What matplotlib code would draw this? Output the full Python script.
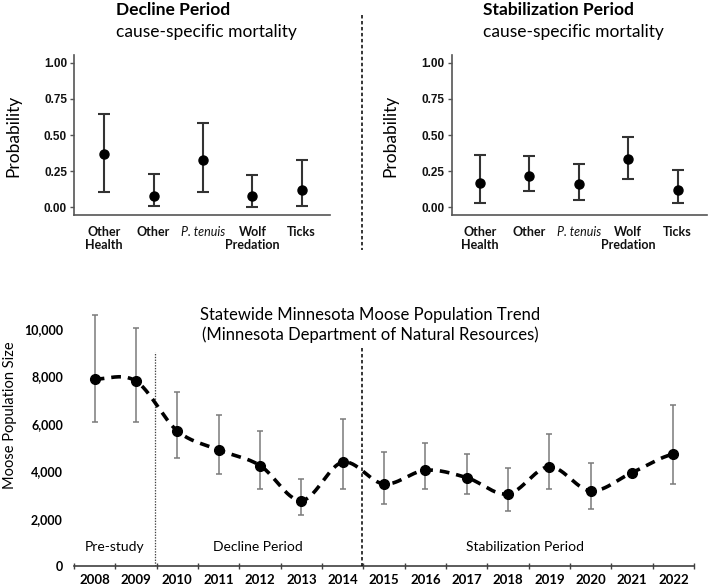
import numpy as np
import matplotlib
matplotlib.use("Agg")
import matplotlib.pyplot as plt
from matplotlib.lines import Line2D

plt.rcParams['lines.scale_dashes'] = False

# ---------------- data ----------------
causes = ["Other\nHealth", "Other", "P. tenuis", "Wolf\nPredation", "Ticks"]

decline_est = [0.366, 0.081, 0.325, 0.076, 0.120]
decline_lo = [0.104, 0.007, 0.106, 0.002, 0.007]
decline_hi = [0.643, 0.228, 0.581, 0.226, 0.327]

stab_est = [0.171, 0.220, 0.160, 0.336, 0.120]
stab_lo = [0.030, 0.111, 0.049, 0.197, 0.028]
stab_hi = [0.361, 0.352, 0.301, 0.484, 0.259]

years = [2008, 2009, 2010, 2011, 2012, 2013, 2014, 2015,
         2016, 2017, 2018, 2019, 2020, 2021, 2022]
moose_est = [7890, 7800, 5700, 4900, 4240, 2760, 4380, 3460,
             4040, 3730, 3040, 4190, 3170, 3940, 4720]
moose_lo = [6070, 6070, 4550, 3890, 3250, 2170, 3240, 2620,
            3240, 3030, 2340, 3270, 2420, np.nan, 3460]
moose_hi = [10600, 10040, 7360, 6380, 5700, 3660, 6220, 4790,
            5180, 4730, 4150, 5580, 4340, np.nan, 6790]

W, H = 709, 588
fig = plt.figure(figsize=(W / 100, H / 100), dpi=100)


def fx(x):
    return x / W


def fy(y):
    return 1 - y / H


def ax_rect(x0, y0, x1, y1):
    return [fx(x0), fy(y1), (x1 - x0) / W, (y1 - y0) / H]


FONT = "Lato"
SPINE = "#555555"


def top_panel(rect, est, lo, hi, xlim, ylab_x):
    ax = fig.add_axes(rect)
    x = np.arange(len(causes))
    est = np.array(est)
    lo = np.array(lo)
    hi = np.array(hi)
    ax.errorbar(x, est, yerr=[est - lo, hi - est], fmt='o', color='black',
                ecolor='#333333', elinewidth=1.5, capsize=4, capthick=1.5,
                markersize=6.5)
    ax.set_xlim(*xlim)
    ax.set_ylim(-0.053, 1.053)
    ax.set_yticks([0, 0.25, 0.5, 0.75, 1.0])
    ax.set_yticklabels(["0.00", "0.25", "0.50", "0.75", "1.00"],
                       fontfamily="Liberation Sans", fontweight="bold",
                       fontsize=8.5, color="#111111")
    ax.set_xticks(x)
    ax.set_xticklabels(causes, fontfamily=FONT, fontweight="bold",
                       fontsize=9, color="#111111", linespacing=1.1)
    for lab in ax.get_xticklabels():
        if lab.get_text().startswith("P."):
            lab.set_fontstyle("italic")
            lab.set_fontweight("normal")
    ax.tick_params(axis='x', length=0, pad=8)
    ax.tick_params(axis='y', length=3, width=1, color=SPINE, pad=2)
    for s in ["top", "right"]:
        ax.spines[s].set_visible(False)
    for s in ["left", "bottom"]:
        ax.spines[s].set_color(SPINE)
        ax.spines[s].set_linewidth(1.2)
    fig.text(fx(ylab_x), fy(136), "Probability", rotation=90,
             ha="center", va="center", fontfamily=FONT, fontsize=12.5)
    return ax


top_panel(ax_rect(74, 55, 330, 215), decline_est, decline_lo, decline_hi,
          (-0.614, 4.573), 13)
top_panel(ax_rect(451.7, 55, 706.7, 215), stab_est, stab_lo, stab_hi,
          (-0.573, 4.587), 390)

fig.text(fx(116), fy(10), "Decline Period", ha="left", va="center",
         fontfamily=FONT, fontweight="bold", fontsize=12.5)
fig.text(fx(116), fy(32), "cause-specific mortality", ha="left", va="center",
         fontfamily=FONT, fontsize=12.5)
fig.text(fx(482.7), fy(10), "Stabilization Period", ha="left", va="center",
         fontfamily=FONT, fontweight="bold", fontsize=12.5)
fig.text(fx(482.7), fy(32), "cause-specific mortality", ha="left",
         va="center", fontfamily=FONT, fontsize=12.5)

# ---------------- bottom panel ----------------
ax = fig.add_axes(ax_rect(74, 300, 694, 566))
xi = np.arange(len(years))
est = np.array(moose_est, dtype=float)

# smooth (Catmull-Rom / Excel-style) curve through the estimates
P = np.concatenate([[est[0]], est, [est[-1]]])
Xp = np.concatenate([[xi[0]], xi, [xi[-1]]]).astype(float)
sx, sy = [], []
t = np.linspace(0, 1, 30)
for i in range(1, len(P) - 2):
    p0, p1, p2, p3 = P[i - 1], P[i], P[i + 1], P[i + 2]
    m1 = (p2 - p0) / 2
    m2 = (p3 - p1) / 2
    h00 = 2 * t**3 - 3 * t**2 + 1
    h10 = t**3 - 2 * t**2 + t
    h01 = -2 * t**3 + 3 * t**2
    h11 = t**3 - t**2
    sy.extend(h00 * p1 + h10 * m1 + h01 * p2 + h11 * m2)
    sx.extend(Xp[i] + t * (Xp[i + 1] - Xp[i]))
ax.plot(sx, sy, color='black', lw=2.6, dashes=(7, 5), solid_capstyle='butt',
        zorder=3)

lo = np.array(moose_lo, dtype=float)
hi = np.array(moose_hi, dtype=float)
ok = ~np.isnan(lo)
ax.errorbar(xi[ok], est[ok], yerr=[est[ok] - lo[ok], hi[ok] - est[ok]],
            fmt='none', ecolor='#7a7a7a', elinewidth=1.1, capsize=2.2,
            capthick=1.1, zorder=2)
ax.plot(xi, est, 'o', color='black', markersize=7, zorder=4)

ax.set_xlim(-0.5, len(years) - 0.5)
ax.set_ylim(0, 11224)
ax.set_yticks([0, 2000, 4000, 6000, 8000, 10000])
ax.set_yticklabels(["0", "2,000", "4,000", "6,000", "8,000", "10,000"],
                   fontfamily=FONT, fontweight="bold", fontsize=9)
ax.tick_params(axis='y', length=0, pad=8)
ax.set_xticks(xi)
ax.set_xticklabels([str(y) for y in years], fontfamily=FONT,
                   fontweight="bold", fontsize=9.5)
ax.set_xticks(np.arange(-0.5, len(years)), minor=True)
ax.tick_params(axis='x', which='major', length=0, pad=6)
ax.tick_params(axis='x', which='minor', length=5, width=1, color='#404040',
               direction='inout')
for s in ["top", "right", "left"]:
    ax.spines[s].set_visible(False)
ax.spines["bottom"].set_color('#404040')
ax.spines["bottom"].set_linewidth(1.2)

ax.plot([1.45, 1.45], [0, 9050], ls=(0, (1, 1)), color='#444444', lw=0.9,
        zorder=1)

fig.text(fx(370.5), fy(315), "Statewide Minnesota Moose Population Trend",
         ha="center", va="center", fontfamily=FONT, fontsize=12)
fig.text(fx(370.5), fy(335), "(Minnesota Department of Natural Resources)",
         ha="center", va="center", fontfamily=FONT, fontsize=12)
fig.text(fx(10), fy(415), "Moose Population Size", rotation=90, ha="center",
         va="center", fontfamily=FONT, fontsize=10.5)
for label, xc in [("Pre-study", 115), ("Decline Period", 257.7),
                  ("Stabilization Period", 525)]:
    fig.text(fx(xc), fy(547), label, ha="center", va="center",
             fontfamily=FONT, fontsize=10)

# central separator dashed line (figure coordinates)
for y0, y1 in [(15, 250), (348, 566)]:
    fig.add_artist(Line2D([fx(362.3), fx(362.3)], [fy(y0), fy(y1)],
                          color='black', lw=1.1, dashes=(2.5, 1.8)))

fig.savefig("out.png", dpi=100)
